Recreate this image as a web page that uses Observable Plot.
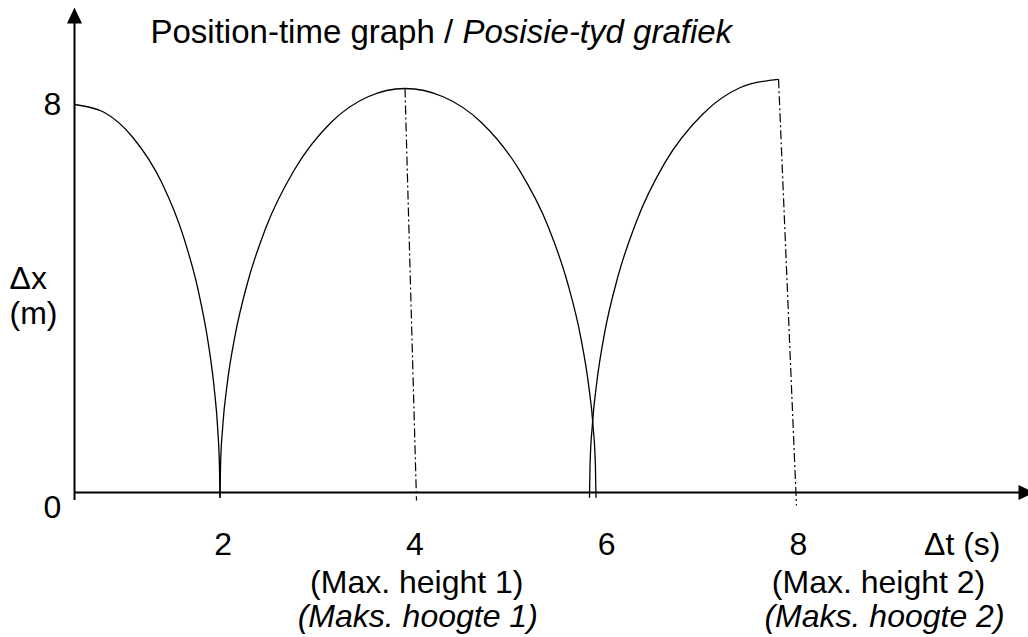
<!DOCTYPE html>
<html><head><meta charset="utf-8">
<script src="https://cdn.jsdelivr.net/npm/d3@7"></script>
<script src="https://cdn.jsdelivr.net/npm/@observablehq/plot@0.6"></script>
<style>html,body{margin:0;padding:0;background:#fff;} svg{display:block}</style>
</head><body><div id="chart"></div>
<script>
// ---- data ----
const xTicks = [2, 4, 6, 8];
const yTicks = [8, 0];
const titleEn = "Position-time graph / ";
const titleAf = "Posisie-tyd grafiek";
const yLabelTop = "Δx";
const yLabelBottom = "(m)";
const xLabel = "Δt (s)";

// arcs: [Δt (s), Δx (m)]
const arc1 = [[0.45,8.00],[0.757,7.84],[1.059,7.32],[1.362,6.38],[1.589,5.26],[1.740,4.17],[1.846,3.07],[1.906,2.17],[1.944,1.30],[1.962,0.53],[1.967,-0.10]];
const arc2 = [[1.967,-0.10],[1.973,0.55],[1.996,1.36],[2.044,2.26],[2.121,3.20],[2.257,4.34],[2.450,5.48],[2.739,6.64],[3.125,7.63],[3.511,8.16],[3.897,8.33],[4.295,8.16],[4.694,7.63],[5.092,6.64],[5.391,5.48],[5.590,4.34],[5.730,3.20],[5.809,2.26],[5.859,1.36],[5.883,0.55],[5.889,-0.10]];
const arc3 = [[5.821,-0.10],[5.827,0.57],[5.851,1.39],[5.900,2.31],[5.978,3.28],[6.116,4.44],[6.313,5.60],[6.608,6.80],[7.001,7.80],[7.395,8.35],[7.788,8.52]];

// dash-dot drop lines from the maxima
const maxMarkers = [
  {peakT: 3.897, peakY: 8.33, footT: 4.017, footY: -0.165},
  {peakT: 7.793, peakY: 8.52, footT: 7.980, footY: -0.27}
];
// annotation labels under the axis (t = centre of label)
const maxLabelsEn = [{t: 4.02, text: "(Max. height 1)"}, {t: 8.836, text: "(Max. height 2)"}];
const maxLabelsAf = [{t: 4.03, text: "(Maks. hoogte 1)"}, {t: 8.898, text: "(Maks. hoogte 2)"}];

// ---- drawing ----
const tOrigin = 0.45, tEnd = 10.4;
const font = "Liberation Sans, Arial, Helvetica, sans-serif";
const fs = 32, fsTitle = 33;
const arrowHead = {draw(ctx) { ctx.moveTo(0, -8); ctx.lineTo(7.5, 8); ctx.lineTo(-7.5, 8); ctx.closePath(); }};
const arcStyle = {x: d => d[0], y: d => d[1], curve: "monotone-x", stroke: "black", strokeWidth: 1.3};

const chart = Plot.plot({
  width: 1028, height: 637,
  marginLeft: 74, marginRight: 0, marginTop: 104, marginBottom: 145,
  x: {domain: [tOrigin, tEnd], axis: null},
  y: {domain: [0, 8], axis: null},
  style: {fontFamily: font, color: "black", background: "white", overflow: "visible"},
  marks: [
    // axes
    Plot.ruleY([0], {stroke: "black", strokeWidth: 2}),
    Plot.ruleX([tOrigin], {y1: -0.165, y2: 9.8, stroke: "black", strokeWidth: 2}),
    Plot.dot([[tOrigin, 9.835]], {x: d => d[0], y: d => d[1], symbol: arrowHead, fill: "black", stroke: "none"}),
    Plot.dot([[10.379, 0]], {x: d => d[0], y: d => d[1], symbol: arrowHead, rotate: 90, fill: "black", stroke: "none"}),
    // curves
    Plot.line(arc1, arcStyle),
    Plot.line(arc2, arcStyle),
    Plot.line(arc3, arcStyle),
    Plot.link(maxMarkers, {x1: "peakT", y1: "peakY", x2: "footT", y2: "footY", stroke: "black", strokeWidth: 1.2, strokeDasharray: "9,3,2,3"}),
    // tick labels
    Plot.text(xTicks, {x: d => d, frameAnchor: "bottom", dy: 62, lineAnchor: "bottom", textAnchor: "middle", text: d => String(d), fontSize: fs, fill: "black"}),
    Plot.text(yTicks.filter(d => d === 8), {y: d => d, frameAnchor: "left", dx: -22, textAnchor: "middle", text: d => String(d), fontSize: fs, fill: "black"}),
    Plot.text(yTicks.filter(d => d === 0), {y: d => d, frameAnchor: "left", dx: -22, dy: 15, textAnchor: "middle", text: d => String(d), fontSize: fs, fill: "black"}),
    // axis labels
    Plot.text([yLabelTop], {frameAnchor: "top-left", dx: -65, dy: 184, textAnchor: "start", lineAnchor: "bottom", text: d => d, fontSize: fs, fill: "black"}),
    Plot.text([yLabelBottom], {frameAnchor: "top-left", dx: -65, dy: 219, textAnchor: "start", lineAnchor: "bottom", text: d => d, fontSize: fs, fill: "black"}),
    Plot.text([xLabel], {frameAnchor: "bottom-right", dx: -28, dy: 62, textAnchor: "end", lineAnchor: "bottom", text: d => d, fontSize: fs, fill: "black"}),
    // title
    Plot.text([titleEn], {frameAnchor: "top-left", dx: 76, dy: -62, textAnchor: "start", lineAnchor: "bottom", text: d => d, fontSize: fsTitle, fill: "black"}),
    Plot.text([titleAf], {frameAnchor: "top-left", dx: 76 + 312, dy: -62, textAnchor: "start", lineAnchor: "bottom", text: d => d, fontSize: fsTitle, fontStyle: "italic", fill: "black"}),
    // max-height annotations
    Plot.text(maxLabelsEn, {x: "t", frameAnchor: "bottom", dy: 100, lineAnchor: "bottom", textAnchor: "middle", text: "text", fontSize: fs, fill: "black"}),
    Plot.text(maxLabelsAf, {x: "t", frameAnchor: "bottom", dy: 134, lineAnchor: "bottom", textAnchor: "middle", text: "text", fontSize: fs, fontStyle: "italic", fill: "black"})
  ]
});
document.getElementById("chart").appendChild(chart);
</script>
</body></html>
